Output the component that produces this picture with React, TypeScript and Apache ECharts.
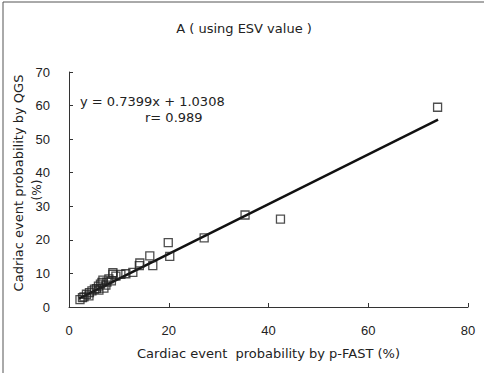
import React, { useEffect, useRef } from "react";
import * as echarts from "echarts";

const titleText = "A ( using ESV value )";
const xAxisName = "Cardiac event  probability by p-FAST (%)";
const yAxisName = "Cadriac event probability by QGS";
const yAxisUnit = "(%)";
const equationText = "y = 0.7399x + 1.0308";
const rText = "r= 0.989";

const slope = 0.7399;
const intercept = 1.0308;
const lineXRange = [2, 74];

const xValues = [2.2, 2.7, 3.0, 3.5, 4.0, 4.1, 4.6, 5.1, 5.5, 5.9, 6.0, 6.3, 6.6, 7.0, 7.4, 7.6, 6.8, 8.0, 8.5, 8.8, 8.8, 9.4, 10.4, 11.4, 12.8, 14.2, 14.1, 16.2, 16.8, 19.9, 20.2, 27.1, 35.3, 42.4, 73.9];
const yValues = [2.2, 2.8, 3.0, 3.8, 3.3, 4.3, 4.8, 5.3, 5.5, 6.2, 5.0, 6.8, 7.3, 5.6, 6.5, 7.4, 8.0, 8.4, 7.8, 9.7, 10.2, 9.2, 9.7, 9.9, 10.3, 13.1, 12.3, 15.2, 12.3, 19.2, 15.1, 20.6, 27.4, 26.2, 59.5];

const xTicks = { min: 0, max: 80, interval: 20 };
const yTicks = { min: 0, max: 70, interval: 10 };

const FONT = "'Liberation Sans', Arial, sans-serif";
const WIDE = "'DejaVu Sans', sans-serif";

export default function App() {
  const ref = useRef<HTMLDivElement>(null);
  useEffect(() => {
    if (!ref.current) return;
    const chart = echarts.init(ref.current, null, { renderer: "svg" });
    const points = xValues.map((x, i) => [x, yValues[i]]);
    const lineData = lineXRange.map((x) => [x, slope * x + intercept]);
    chart.setOption({
      animation: false,
      backgroundColor: "#fff",
      textStyle: { fontFamily: FONT },
      grid: { left: 69, right: 16, top: 72, bottom: 66 },
      xAxis: {
        type: "value",
        ...xTicks,
        name: xAxisName,
        nameLocation: "middle",
        nameGap: 40,
        nameTextStyle: { color: "#222", fontSize: 13, fontFamily: WIDE },
        axisLine: { show: true, lineStyle: { color: "#333", width: 1 } },
        axisTick: { show: true, inside: true, length: 4, lineStyle: { color: "#333" } },
        axisLabel: { color: "#222", fontSize: 13, margin: 17, fontFamily: FONT },
        splitLine: { show: false },
      },
      yAxis: {
        type: "value",
        ...yTicks,
        axisLine: { show: true, lineStyle: { color: "#333", width: 1 } },
        axisTick: { show: true, inside: true, length: 4, lineStyle: { color: "#333" } },
        axisLabel: { color: "#222", fontSize: 13, margin: 19, fontFamily: FONT },
        splitLine: { show: false },
      },
      graphic: [
        { type: "line", shape: { x1: 3, y1: 2, x2: 3, y2: 373 }, style: { stroke: "#555", lineWidth: 1 } },
        { type: "line", shape: { x1: 3, y1: 2, x2: 484, y2: 2 }, style: { stroke: "#555", lineWidth: 1 } },
        { type: "text", x: 244, y: 28, style: { text: titleText, fill: "#222", font: `13px ${WIDE}`, textAlign: "center", textVerticalAlign: "middle" } },
        { type: "text", x: 80, y: 101, style: { text: equationText, fill: "#222", font: `13px ${WIDE}`, textAlign: "left", textVerticalAlign: "middle" } },
        { type: "text", x: 145, y: 117, style: { text: rText, fill: "#222", font: `13px ${WIDE}`, textAlign: "left", textVerticalAlign: "middle" } },
        { type: "text", x: 18, y: 183, rotation: Math.PI / 2, style: { text: yAxisName, fill: "#222", font: `13px ${WIDE}`, textAlign: "center", textVerticalAlign: "middle" } },
        { type: "text", x: 37, y: 190, rotation: Math.PI / 2, style: { text: yAxisUnit, fill: "#222", font: `12px ${WIDE}`, textAlign: "center", textVerticalAlign: "middle" } },
      ],
      series: [
        {
          type: "line",
          data: lineData,
          symbol: "none",
          lineStyle: { color: "#111", width: 2.5 },
          z: 2,
        },
        {
          type: "scatter",
          data: points,
          symbol: "rect",
          symbolSize: 8,
          itemStyle: { color: "rgba(255,255,255,0)", borderColor: "#222", borderWidth: 1.3 },
          z: 3,
        },
      ],
    });
    return () => chart.dispose();
  }, []);
  return <div ref={ref} style={{ position: "fixed", left: 0, top: 0, width: 484, height: 373 }} />;
}
